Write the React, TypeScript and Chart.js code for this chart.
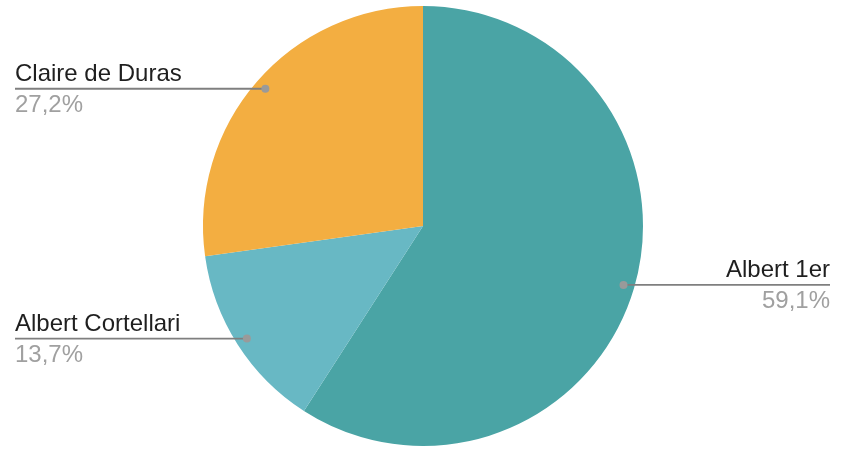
import { useEffect, useRef } from "react";
import { Chart, registerables } from "chart.js";

Chart.register(...registerables);

const labels = ["Albert 1er", "Albert Cortellari", "Claire de Duras"];
const values = [59.1, 13.7, 27.2];
const colors = ["#4aa4a5", "#68b8c4", "#f3ae41"];

const FONT = "24px 'Liberation Sans', Arial, Helvetica, sans-serif";

const leaderLabels = {
  id: "leaderLabels",
  afterDraw(chart: any) {
    const ctx = chart.ctx;
    const meta = chart.getDatasetMeta(0);
    const total = values.reduce((a, b) => a + b, 0);
    ctx.save();
    meta.data.forEach((arc: any, i: number) => {
      const mid = (arc.startAngle + arc.endAngle) / 2;
      const r = arc.outerRadius - 11;
      const dx = arc.x + Math.cos(mid) * r;
      const dy = arc.y + Math.sin(mid) * r;
      const right = Math.cos(mid) > 0;
      const edge = right ? chart.width - 12 : 15;

      ctx.strokeStyle = "#7f7f7f";
      ctx.lineWidth = 1.8;
      ctx.beginPath();
      ctx.moveTo(dx, dy);
      ctx.lineTo(edge, dy);
      ctx.stroke();

      ctx.fillStyle = "#9a9a9a";
      ctx.beginPath();
      ctx.arc(dx, dy, 4, 0, Math.PI * 2);
      ctx.fill();

      ctx.font = FONT;
      ctx.textAlign = right ? "right" : "left";
      ctx.textBaseline = "alphabetic";
      ctx.fillStyle = "#1f1f1f";
      ctx.fillText(labels[i], edge, dy - 7.5);
      const pct = ((values[i] / total) * 100).toFixed(1).replace(".", ",") + "%";
      ctx.fillStyle = "#a0a0a0";
      ctx.fillText(pct, edge, dy + 23);
    });
    ctx.restore();
  },
};

export default function App() {
  const canvasRef = useRef<HTMLCanvasElement>(null);

  useEffect(() => {
    document.body.style.margin = "0";
    if (!canvasRef.current) return;
    const chart = new Chart(canvasRef.current, {
      type: "pie",
      data: {
        labels,
        datasets: [
          {
            data: values,
            backgroundColor: colors,
            borderWidth: 0,
          },
        ],
      },
      options: {
        responsive: false,
        animation: false,
        layout: {
          padding: { left: 203, right: 199, top: 6, bottom: 16 },
        },
        plugins: {
          legend: { display: false },
          tooltip: { enabled: false },
        },
      },
      plugins: [leaderLabels],
    });
    return () => {
      chart.destroy();
    };
  }, []);

  return (
    <div style={{ width: 842, height: 462, background: "#fff" }}>
      <canvas ref={canvasRef} width={842} height={462} />
    </div>
  );
}
